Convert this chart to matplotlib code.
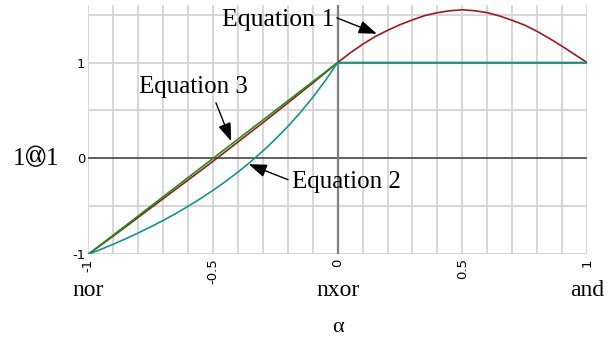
import matplotlib
matplotlib.use("Agg")
import matplotlib.pyplot as plt
from matplotlib.patches import Ellipse

# Operator 1 (α) 1 as a function of the parameter α
alpha_neg = [-1.0, -0.95, -0.9, -0.85, -0.8, -0.75, -0.7, -0.65, -0.6, -0.55, -0.5,
             -0.45, -0.4, -0.35, -0.3, -0.25, -0.2, -0.15, -0.1, -0.05, 0.0]
alpha_pos = [0.0, 0.05, 0.1, 0.15, 0.2, 0.25, 0.3, 0.35, 0.4, 0.45, 0.5,
             0.55, 0.6, 0.65, 0.7, 0.75, 0.8, 0.85, 0.9, 0.95, 1.0]

eq1_neg = [-1.0, -0.905, -0.81, -0.713, -0.615, -0.518, -0.42, -0.323, -0.226, -0.128, -0.03,
           0.07, 0.171, 0.272, 0.372, 0.475, 0.578, 0.682, 0.786, 0.892, 1.0]
eq1_pos = [1.0, 1.10, 1.19, 1.27, 1.335, 1.395, 1.445, 1.49, 1.52, 1.54, 1.55,
           1.54, 1.52, 1.485, 1.44, 1.39, 1.325, 1.25, 1.17, 1.085, 1.0]

eq2_neg = [-1.0, -0.949, -0.895, -0.838, -0.778, -0.714, -0.647, -0.576, -0.5, -0.419, -0.333,
           -0.241, -0.143, -0.037, 0.077, 0.2, 0.333, 0.478, 0.636, 0.81, 1.0]
eq2_pos_alpha = [0.0, 1.0]
eq2_pos = [1.0, 1.0]

eq3_alpha = [-1.0, 0.0, 1.0]
eq3_vals = [-1.0, 1.0, 1.0]

xtick_vals = [-1, -0.5, 0, 0.5, 1]
xtick_labels = ["-1", "-0.5", "0", "0.5", "1"]
ytick_vals = [-1, 0, 1]
ytick_labels = ["-1", "0", "1"]
gate_names = ["nor", "nxor", "and"]
gate_pos = [-1, 0, 1]

RED = "#9a1b1b"
GREEN = "#1f8f1f"
TEAL = "#1b9090"
SERIF = "Liberation Serif"

fig = plt.figure(figsize=(6.08, 3.43), dpi=100)
ax = fig.add_axes([0.1452, 0.2586, 0.8203, 0.7268])
ax.set_xlim(-1, 1)
ax.set_ylim(-1, 1.6)

for s in ax.spines.values():
    s.set_visible(False)

# grid
for i in range(21):
    x = -1 + i * 0.1
    ax.axvline(x, color="#d4d4d4", lw=1.3, zorder=0)
for y in [-1, -0.5, 0.5, 1, 1.5]:
    ax.axhline(y, color="#d4d4d4", lw=1.3, zorder=0)
ax.axhline(0, color="#444444", lw=1.2, zorder=1)
ax.axvline(0, color="#808080", lw=1.6, zorder=1)

# curves
ax.plot(alpha_neg, eq1_neg, color=RED, lw=1.2, zorder=3)
ax.plot(alpha_pos, eq1_pos, color=RED, lw=1.2, zorder=3)
ax.plot(eq3_alpha, eq3_vals, color=GREEN, lw=1.2, zorder=4)
ax.plot(alpha_neg, eq2_neg, color=TEAL, lw=1.2, zorder=5)
ax.plot(eq2_pos_alpha, eq2_pos, color=TEAL, lw=1.2, zorder=5)

# ticks
ax.set_xticks(xtick_vals)
ax.set_xticklabels(xtick_labels, rotation=90, fontsize=9.5, family="DejaVu Sans")
ax.set_yticks(ytick_vals)
ax.set_yticklabels(ytick_labels, fontsize=9.5, family="DejaVu Sans")
ax.tick_params(axis="both", length=0)
ax.tick_params(axis="x", pad=3)
ax.tick_params(axis="y", pad=2)

# gate names under the axis
for name, p in zip(gate_names, gate_pos):
    ax.text(p, -1.44, name, ha="center", va="baseline", fontsize=17,
            family=SERIF, clip_on=False)
ax.text(0, -1.76, "α", ha="center", va="center", fontsize=16,
        family=SERIF, clip_on=False)

# y label: 1 (α) 1, with the α inside a circle
ax.text(-1.277, -0.066, "1", ha="center", va="baseline", fontsize=18, family=SERIF, clip_on=False)
ax.text(-1.211, -0.034, "α", ha="center", va="baseline", fontsize=18, family=SERIF, clip_on=False)
ax.text(-1.147, -0.066, "1", ha="center", va="baseline", fontsize=18, family=SERIF, clip_on=False)
ax.add_patch(Ellipse((-1.211, 0.023), 0.072, 0.208, fill=False, ec="black", lw=1.0,
                     clip_on=False, transform=ax.transData))

# annotations
arrow = dict(arrowstyle="-|>,head_length=0.55,head_width=0.2", color="black",
             lw=1.0, mutation_scale=20, shrinkA=0, shrinkB=0)
ax.text(-0.012, 1.44, "Equation 1", ha="right", va="center", fontsize=18.5, family=SERIF)
ax.annotate("", xy=(0.157, 1.30), xytext=(-0.003, 1.466), arrowprops=arrow)

ax.text(-0.578, 0.75, "Equation 3", ha="center", va="center", fontsize=18, family=SERIF)
ax.annotate("", xy=(-0.427, 0.18), xytext=(-0.488, 0.58), arrowprops=arrow)

ax.text(-0.183, -0.25, "Equation 2", ha="left", va="center", fontsize=18, family=SERIF)
ax.annotate("", xy=(-0.357, -0.06), xytext=(-0.199, -0.222), arrowprops=arrow)

fig.savefig("out.png", dpi=100)
